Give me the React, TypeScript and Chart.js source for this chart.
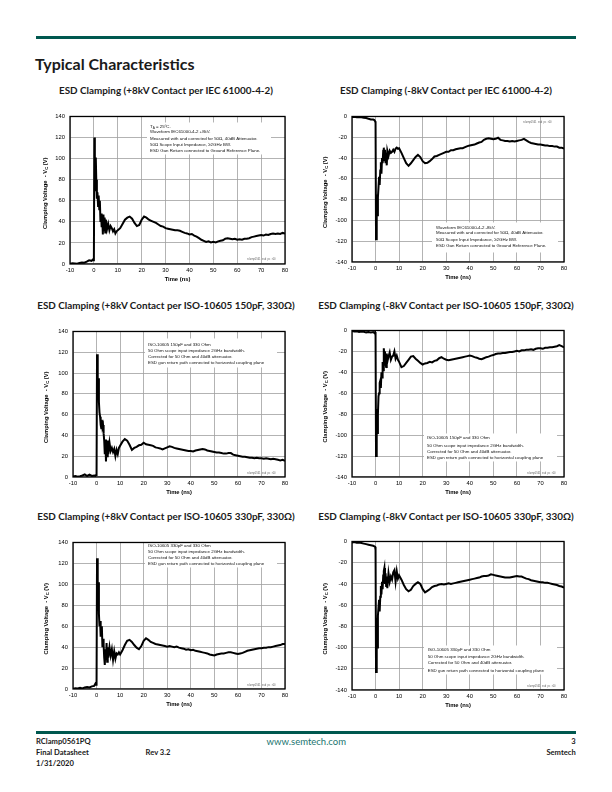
import React, { useEffect, useRef } from 'react';
import { Chart, registerables } from 'chart.js';
Chart.register(...registerables);

// Sample times (ns), shared by all six scope captures
const time = [
  -10, -9, -8, -7, -6, -5, -4, -3, -2, -1, -0.5, -0.2,
  0, 0.2, 0.4, 0.6, 0.8, 1,
  1.25, 1.5, 1.75, 2, 2.25, 2.5, 2.75, 3, 3.25, 3.5, 3.75, 4, 4.25, 4.5, 4.75, 5,
  5.5, 6, 6.5, 7, 7.5, 8, 8.5, 9, 9.5, 10,
  11, 12, 13, 14, 15, 16, 17, 18, 19, 20,
  21, 22, 23, 24, 25, 26, 27, 28, 29, 30,
  31, 32, 33, 34, 35, 36, 37, 38, 39, 40,
  41, 42, 43, 44, 45, 46, 47, 48, 49, 50,
  51, 52, 53, 54, 55, 56, 57, 58, 59, 60,
  61, 62, 63, 64, 65, 66, 67, 68, 69, 70,
  71, 72, 73, 74, 75, 76, 77, 78, 79, 80,
];

// +8kV IEC 61000-4-2
const vPosIec = [
  0.3, 0.8, 0.5, 0.2, 1.0, 1.5, 1.2, 2.2, 3.5, 3.0, 4.2, 3.5,
  5, 120, 95, 70, 101, 80,
  62, 68, 55, 65, 52, 60, 40, 48, 35, 44, 28, 47, 32, 44, 30, 42,
  33, 38, 32, 36, 34, 31, 33, 29, 31, 32,
  34, 38, 42, 44, 45, 43, 39, 36, 37, 42,
  45, 44, 42, 41, 40, 39, 37.5, 36, 35.5, 34,
  33.5, 33, 32.5, 32, 32, 31.5, 30.5, 29.5, 29, 28,
  28.5, 27, 26, 24.5, 23, 22, 21, 21.5, 20.5, 21,
  20.5, 21.5, 22, 22.5, 24, 24.5, 24, 23.5, 24, 23,
  23.5, 23, 24, 24, 24.5, 25.5, 26, 26.5, 27, 27.5,
  27, 28, 27.5, 28.5, 29, 28.5, 29, 28.5, 29.5, 29,
];

// -8kV IEC 61000-4-2
const vNegIec = [
  -0.5, -0.3, -0.8, -0.5, -0.7, -1.2, -1.5, -2.2, -2.8, -3.0, -3.5, -4.5,
  -6, -118, -100, -75, -95, -78,
  -68, -58, -66, -52, -44, -55, -40, -45, -33, -30, -42, -32, -45, -35, -47, -33,
  -38, -33, -35, -34, -32, -34, -31, -30, -31, -30.5,
  -35, -40, -45, -47.5, -45, -42, -39, -37, -39, -43,
  -45, -44.5, -43, -41, -38.5, -38, -37, -36, -35, -34,
  -34, -32.5, -32.5, -31.5, -31, -30.5, -30.5, -29.5, -28.5, -28,
  -27.5, -27, -26, -25, -24.5, -22.5, -21.5, -21, -21.5, -22,
  -21.5, -20.5, -22.5, -23, -23.5, -23.5, -24, -23.5, -24, -23.5,
  -23, -22.5, -21.5, -23, -24.5, -25.5, -26, -26.5, -27, -27,
  -27.5, -28, -28, -28.5, -28.5, -29, -29, -30, -30, -31,
];

// +8kV ISO-10605 150pF / 330 Ohm
const vPos150 = [
  0.5, 1, 0.3, 0.8, 1.5, 2.5, 1.0, 2.2, 1.0, 1.5, 1.2, 2.0,
  3, 118, 97, 78, 95, 72,
  62, 58, 50, 47, 55, 48, 50, 42, 35, 22, 36, 15, 30, 20, 35, 22,
  33, 25, 28, 24, 27, 20, 26, 22, 28, 30,
  34, 36.5, 35, 31, 26, 28, 29, 30.5, 31, 33,
  31.5, 31, 30.5, 30, 28.5, 28, 27.5, 26.5, 27.5, 28.5,
  29.5, 29, 28, 27.5, 27, 26.5, 26, 25.5, 25, 25,
  24.5, 25.5, 26, 26.5, 27, 26.5, 25.5, 25, 24.5, 24,
  23.5, 23.5, 23, 22.5, 22.5, 23, 23, 21.5, 21, 20.5,
  20, 19.5, 19.5, 19, 18.5, 18.5, 18, 18.5, 18, 18,
  17.5, 18, 17.5, 17, 17.5, 17, 16.5, 16, 16.5, 15.5,
];

// -8kV ISO-10605 150pF / 330 Ohm
const vNeg150 = [
  -0.5, -1, -0.8, -1.5, -1, -1.2, -1.8, -1.5, -2, -1.5, -2.5, -1.5,
  -5, -120, -100, -75, -98, -80,
  -63, -60, -50, -48, -55, -40, -45, -30, -38, -17, -25, -20, -32, -35, -22, -30,
  -25, -21, -28, -25, -24, -20, -27, -24, -28, -30,
  -35, -34, -31, -28, -25, -24.5, -27, -29, -31, -32.5,
  -31.5, -31, -30, -30.5, -29, -28.5, -26.5, -25.5, -27, -28,
  -28.5, -28, -27.5, -27, -26.5, -26, -25.5, -25, -24.5, -24,
  -24.5, -25.5, -26, -27, -27.5, -26.5, -25.5, -25, -24, -23.5,
  -22.5, -22, -22, -21.5, -21.5, -21, -20.5, -20.5, -20, -19.5,
  -20, -19, -19, -18.5, -18.5, -18, -18.5, -17.5, -17, -17,
  -17.5, -16.5, -16.5, -16, -16, -15.5, -15, -14, -15, -16,
];

// +8kV ISO-10605 330pF / 330 Ohm
const vPos330 = [
  0.3, 0.8, 0.5, 1.2, 0.6, 1.5, 2.0, 1.5, 2.5, 3.0, 5.0, 4.0,
  6, 125, 90, 75, 102, 72,
  60, 65, 50, 58, 60, 40, 48, 42, 30, 23, 38, 28, 44, 26, 40, 30,
  40, 32, 38, 28, 36, 29, 34, 33, 35, 33,
  37, 42, 46, 47, 45, 42, 39.5, 38, 41, 46,
  48.5, 47, 45, 44, 43, 42.5, 42, 41.5, 41, 40.5,
  41, 40.5, 40, 40.5, 39.5, 39, 38.5, 37.5, 38, 37,
  37.5, 36.5, 36, 35.5, 35, 34.5, 34, 33, 32.5, 32,
  33, 33.5, 34, 34, 34.5, 35, 35, 34.5, 34, 33.5,
  34, 34.5, 35.5, 36.5, 37, 37.5, 38, 38.5, 39, 39,
  39.5, 39.5, 40, 40, 40.5, 41, 41.5, 42, 43, 43,
];

// -8kV ISO-10605 330pF / 330 Ohm
const vNeg330 = [
  -1, -0.5, -1.2, -1, -1.5, -2, -2.5, -3, -3.5, -4, -4.5, -5,
  -8, -123, -102, -72, -100, -70,
  -62, -55, -66, -52, -42, -50, -38, -45, -32, -28, -25, -40, -30, -42, -33, -44,
  -30, -38, -33, -36, -29, -27, -38, -28, -35, -32,
  -36, -41, -45, -47, -45.5, -42, -40, -38.5, -40, -45,
  -48, -46.5, -45, -43, -42, -41.5, -40.5, -40, -40.5, -40,
  -39.5, -40, -39.5, -39, -38.5, -38, -37.5, -37, -36.5, -36,
  -35.5, -35, -34.5, -34, -33, -32.5, -32.5, -32, -31, -31.5,
  -32, -32.5, -33, -33.5, -34, -34, -34, -33.5, -33, -32.5,
  -33, -33, -34, -35, -35.5, -36.5, -37, -37.5, -38, -38.5,
  -38.5, -39, -39, -39.5, -40, -40.5, -41, -42, -42.5, -43.5,
];

const xTickStep = 10;
const yTickStep = 20;

const titles = [
  'ESD Clamping (+8kV Contact per IEC 61000-4-2)',
  'ESD Clamping (-8kV Contact per IEC 61000-4-2)',
  'ESD Clamping (+8kV Contact per ISO-10605 150pF, 330\u03A9)',
  'ESD Clamping (-8kV Contact per ISO-10605 150pF, 330\u03A9)',
  'ESD Clamping (+8kV Contact per ISO-10605 330pF, 330\u03A9)',
  'ESD Clamping (-8kV Contact per ISO-10605 330pF, 330\u03A9)',
];

type Part = { t: string; sub?: boolean };
type Line = string | Part[];

const notesIecPos: Line[] = [
  [{ t: 'T' }, { t: 'A', sub: true }, { t: ' = 25\u00BAC.' }],
  'Waveform IEC61000-4-2 +8kV.',
  'Measured with and corrected for 50\u03A9, 40dB Attenuator.',
  '50\u03A9 Scope Input Impedance, \u22652GHz BW.',
  'ESD Gun Return connected to Ground Reference Plane.',
];
const notesIecNeg: Line[] = [
  'Waveform IEC61000-4-2 -8kV.',
  'Measured with and corrected for 50\u03A9, 40dB Attenuator.',
  '50\u03A9 Scope Input Impedance, \u22652GHz BW.',
  'ESD Gun Return connected to Ground Reference Plane.',
];
const notes150: Line[] = [
  'ISO-10605 150pF and 330 Ohm',
  '50 Ohm scope input impedance 2GHz bandwidth.',
  'Corrected for 50 Ohm and 40dB attenuator.',
  'ESD gun return path connected to horizontal coupling plane',
];
const notes330: Line[] = [
  'ISO-10605 330pF and 330 Ohm',
  '50 Ohm scope input impedance 2GHz bandwidth.',
  'Corrected for 50 Ohm and 40dB attenuator.',
  'ESD gun return path connected to horizontal coupling plane',
];

type Cfg = {
  values: number[];
  yMin: number;
  yMax: number;
  plot: { l: number; t: number; r: number; b: number };
  box: { x: number; y: number; w: number; h: number };
  textX: number;
  lineY: number[];
  notes: Line[];
  tag: { x: number; y: number };
  yTitleX: number;
};

const panels: Cfg[] = [
  {
    values: vPosIec, yMin: 0, yMax: 140,
    plot: { l: 70, t: 116, r: 285, b: 264 },
    box: { x: 77, y: 6, w: 124, h: 32 }, textX: 80,
    lineY: [10, 15.7, 22, 28.3, 34.7], notes: notesIecPos,
    tag: { x: 177, y: 142.7 }, yTitleX: 45.5,
  },
  {
    values: vNegIec, yMin: -140, yMax: 0,
    plot: { l: 352, t: 116, r: 564, b: 262 },
    box: { x: 80, y: 106, w: 126, h: 30 }, textX: 84,
    lineY: [111, 116.7, 123.3, 129.3], notes: notesIecNeg,
    tag: { x: 171, y: 6 }, yTitleX: 325.5,
  },
  {
    values: vPos150, yMin: 0, yMax: 140,
    plot: { l: 73, t: 331, r: 285, b: 477 },
    box: { x: 72, y: 7, w: 132, h: 29 }, textX: 75,
    lineY: [13, 19, 25, 31.3], notes: notes150,
    tag: { x: 174, y: 141.7 }, yTitleX: 46,
  },
  {
    values: vNeg150, yMin: -140, yMax: 0,
    plot: { l: 352, t: 330, r: 564, b: 477 },
    box: { x: 72, y: 103, w: 133, h: 28 }, textX: 75,
    lineY: [107.5, 115, 121, 127], notes: notes150,
    tag: { x: 175, y: 142.7 }, yTitleX: 325.5,
  },
  {
    values: vPos330, yMin: 0, yMax: 140,
    plot: { l: 73, t: 542, r: 285, b: 689 },
    box: { x: 72, y: 0, w: 132, h: 25 }, textX: 75,
    lineY: [3, 9.7, 15.7, 21.7], notes: notes330,
    tag: { x: 174, y: 143 }, yTitleX: 46,
  },
  {
    values: vNeg330, yMin: -140, yMax: 0,
    plot: { l: 352, t: 541, r: 564, b: 690 },
    box: { x: 72, y: 104, w: 133, h: 29 }, textX: 75.7,
    lineY: [108.3, 115, 121.7, 129], notes: notes330,
    tag: { x: 175, y: 144.7 }, yTitleX: 325.5,
  },
];

const FAM = "'Liberation Sans', Arial, sans-serif";
const PADL = 42, PADT = 8, PADR = 16, PADB = 24;

function drawRich(ctx: CanvasRenderingContext2D, parts: Part[], x: number, y: number, size: number, bold: boolean, center: boolean) {
  const f = (s: number) => `${bold ? 'bold ' : ''}${s}px ${FAM}`;
  let w = 0;
  for (const p of parts) {
    ctx.font = f(p.sub ? size * 0.72 : size);
    w += ctx.measureText(p.t).width;
  }
  let cx = center ? x - w / 2 : x;
  ctx.textAlign = 'left';
  ctx.textBaseline = 'middle';
  for (const p of parts) {
    ctx.font = f(p.sub ? size * 0.72 : size);
    ctx.fillText(p.t, cx, p.sub ? y + size * 0.28 : y);
    cx += ctx.measureText(p.t).width;
  }
}

function makePlugin(cfg: Cfg) {
  return {
    id: 'pageDecor',
    beforeDatasetsDraw(chart: any) {
      const { ctx, chartArea: a } = chart;
      ctx.save();
      ctx.fillStyle = '#ffffff';
      ctx.fillRect(a.left + cfg.box.x, a.top + cfg.box.y, cfg.box.w, cfg.box.h);
      ctx.restore();
    },
    afterDraw(chart: any) {
      const { ctx, chartArea: a } = chart;
      ctx.save();
      ctx.strokeStyle = '#000';
      ctx.lineWidth = 1.3;
      ctx.strokeRect(a.left, a.top, a.right - a.left, a.bottom - a.top);
      ctx.fillStyle = '#111';
      cfg.notes.forEach((ln, i) => {
        const parts: Part[] = typeof ln === 'string' ? [{ t: ln }] : ln;
        drawRich(ctx, parts, a.left + cfg.textX, a.top + cfg.lineY[i], 4.4, false, false);
      });
      ctx.fillStyle = '#666';
      ctx.font = `2.6px ${FAM}`;
      ctx.textAlign = 'left';
      ctx.textBaseline = 'middle';
      ctx.fillText('rclamp0561_esd_pc_r00', a.left + cfg.tag.x, a.top + cfg.tag.y);
      ctx.fillStyle = '#000';
      drawRich(ctx, [{ t: 'Time (ns)' }], (a.left + a.right) / 2, a.bottom + 15, 5.8, true, true);
      const canvasLeft = cfg.plot.l - PADL;
      ctx.translate(cfg.yTitleX - canvasLeft, (a.top + a.bottom) / 2 + 3);
      ctx.rotate(-Math.PI / 2);
      drawRich(ctx, [{ t: 'Clamping Voltage  - V' }, { t: 'C', sub: true }, { t: ' (V)' }], 0, 0, 5.8, true, true);
      ctx.restore();
    },
  };
}

function Panel({ cfg }: { cfg: Cfg }) {
  const ref = useRef<HTMLCanvasElement>(null);
  const W = cfg.plot.r - cfg.plot.l + PADL + PADR;
  const H = cfg.plot.b - cfg.plot.t + PADT + PADB;
  useEffect(() => {
    const tickFont = { family: FAM, size: 5.8 };
    const chart = new Chart(ref.current as HTMLCanvasElement, {
      type: 'line',
      data: {
        datasets: [
          {
            data: time.map((t, i) => ({ x: t, y: cfg.values[i] })),
            borderColor: '#000',
            borderWidth: 2,
            pointRadius: 0,
            tension: 0,
            fill: false,
          },
        ],
      },
      options: {
        animation: false,
        responsive: false,
        devicePixelRatio: 1,
        layout: { padding: { top: PADT, right: PADR, left: 0, bottom: 0 } },
        plugins: { legend: { display: false }, tooltip: { enabled: false } },
        scales: {
          x: {
            type: 'linear',
            min: -10,
            max: 80,
            afterFit: (s: any) => { s.height = PADB; },
            ticks: { stepSize: xTickStep, padding: 3, font: tickFont, color: '#000', maxRotation: 0, autoSkip: false },
            grid: { color: '#a0a0a0', lineWidth: 0.8, drawTicks: false },
            border: { display: false },
          },
          y: {
            type: 'linear',
            min: cfg.yMin,
            max: cfg.yMax,
            afterFit: (s: any) => { s.width = PADL; },
            ticks: { stepSize: yTickStep, padding: 5, font: tickFont, color: '#000', autoSkip: false },
            grid: { color: '#a0a0a0', lineWidth: 0.8, drawTicks: false },
            border: { display: false },
          },
        },
      } as any,
      plugins: [makePlugin(cfg)],
    });
    return () => chart.destroy();
  }, []);
  return (
    <canvas
      ref={ref}
      width={W}
      height={H}
      style={{ position: 'absolute', left: cfg.plot.l - PADL, top: cfg.plot.t - PADT, width: W, height: H }}
    />
  );
}

const TXT = "Lato, 'Open Sans', sans-serif";

function Txt({ x, baseline, size, bold, children, align, w, color }: any) {
  const top = baseline - size * 0.89;
  const style: any = {
    position: 'absolute', top, fontFamily: TXT, fontSize: size, lineHeight: 1,
    fontWeight: bold ? 700 : 400, color: color || '#1a1a1a', whiteSpace: 'nowrap',
  };
  if (align === 'center') { style.left = x - w / 2; style.width = w; style.textAlign = 'center'; }
  else if (align === 'right') { style.left = x - w; style.width = w; style.textAlign = 'right'; }
  else style.left = x;
  return <div style={style}>{children}</div>;
}

export default function App() {
  const rowBase = [95, 309.5, 521];
  return (
    <div style={{ position: 'absolute', left: 0, top: 0, width: 612, height: 792, background: '#fff', overflow: 'hidden' }}>
      <div style={{ position: 'absolute', left: 36, top: 35.5, width: 540, height: 3, background: '#00584f' }} />
      <Txt x={35} baseline={70} size={16} bold>Typical Characteristics</Txt>
      {titles.map((t, i) => (
        <Txt key={i} x={i % 2 === 0 ? 166 : 446} w={300} align="center" baseline={rowBase[Math.floor(i / 2)]} size={9.9} bold>{t}</Txt>
      ))}
      {panels.map((p, i) => <Panel key={i} cfg={p} />)}
      <div style={{ position: 'absolute', left: 36, top: 731, width: 540, height: 3, background: '#00584f' }} />
      <Txt x={36} baseline={745} size={7.6} bold>RClamp0561PQ</Txt>
      <Txt x={36} baseline={756} size={7.6} bold>Final Datasheet</Txt>
      <Txt x={36} baseline={767} size={7.6} bold>1/31/2020</Txt>
      <Txt x={145.6} baseline={756} size={7.6} bold>Rev 3.2</Txt>
      <Txt x={266.6} baseline={745} size={9.5} color="#1b7570">www.semtech.com</Txt>
      <Txt x={575.7} w={60} align="right" baseline={745} size={7.6} bold>3</Txt>
      <Txt x={575.7} w={60} align="right" baseline={756} size={7.6} bold>Semtech</Txt>
    </div>
  );
}
